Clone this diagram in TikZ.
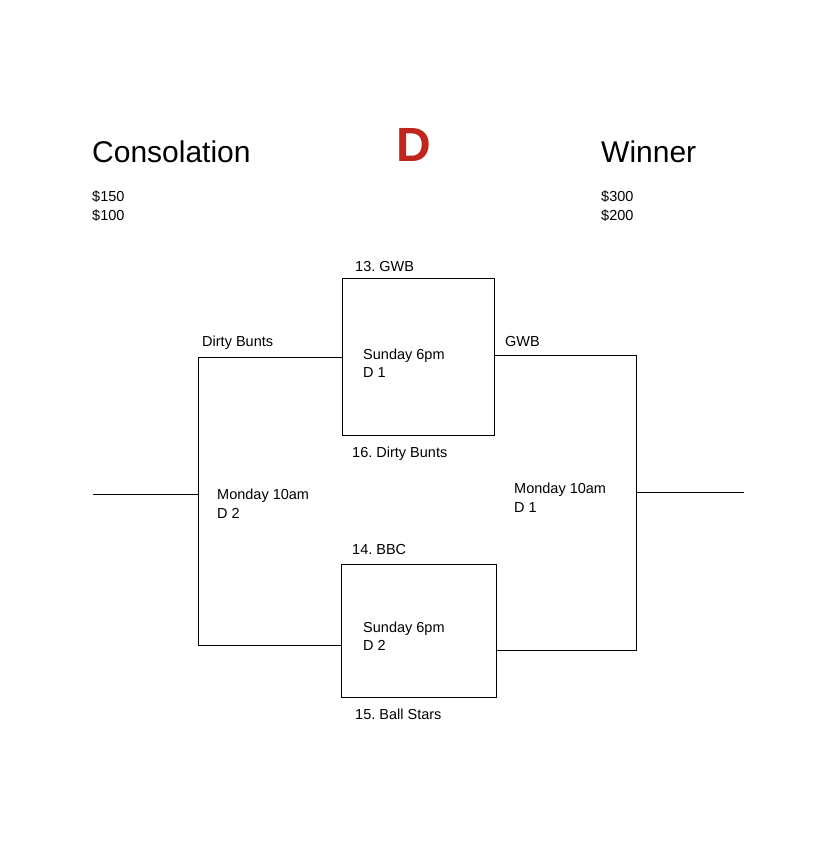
\documentclass[tikz,border=0pt]{standalone}
\usepackage{fontspec}
\setmainfont{Liberation Sans}
\frenchspacing
\definecolor{bracketred}{RGB}{192,38,30}
\tikzset{
  gamebox/.style={draw, line width=0.8pt, minimum width=152pt, minimum height=157pt, inner sep=0pt},
  lbl/.style={anchor=base west, inner sep=0pt, font=\fontsize{14.5}{17}\selectfont},
  title/.style={anchor=base west, inner sep=0pt, font=\fontsize{30}{36}\selectfont},
  wire/.style={line width=0.8pt}
}
\begin{document}
\begin{tikzpicture}[x=1pt,y=-1pt]
    \useasboundingbox (0,0) rectangle (836,861);
    % headings
    \node[title] (cons) at (92,163) {Consolation};
    \node[title] (win) at (601,163) {Winner};
    \node[anchor=base, inner sep=0pt, text=bracketred, font=\fontsize{48}{54}\selectfont\bfseries] (div) at (414,161) {D};
    \node[lbl] (consA) at (92,201) {\$150};
    \node[lbl] (consB) at (92,220) {\$100};
    \node[lbl] (winA) at (601,201) {\$300};
    \node[lbl] (winB) at (601,220) {\$200};
    %
    \node[gamebox] (g1) at (418,356.5) {};
    \node[gamebox, minimum width=155pt, minimum height=133pt] (g2) at (418.5,630.5) {};
    \node[lbl] (t13) at (355,271) {13. GWB};
    \node[lbl] (t16) at (352,457) {16. Dirty Bunts};
    \node[lbl] (g1a) at (363,359) {Sunday 6pm};
    \node[lbl] (g1b) at (363,377) {D 1};
    \node[lbl] (t14) at (352,554) {14. BBC};
    \node[lbl] (t15) at (355,719) {15. Ball Stars};
    \node[lbl] (g2a) at (363,632) {Sunday 6pm};
    \node[lbl] (g2b) at (363,650) {D 2};
    %
    \coordinate (consTop) at (198,357);
    \coordinate (consBot) at (198,645);
    \coordinate (consOut) at (93,494);
    \draw[wire] (g1.west |- consTop) -- (consTop) -- (consBot) -- (g2.west |- consBot);
    \draw[wire] (consOut) -- (consOut -| consTop);
    \node[lbl] (loser) at (202,346) {Dirty Bunts};
    \node[lbl] (m2a) at (217,499) {Monday 10am};
    \node[lbl] (m2b) at (217,518) {D 2};
    %
    \coordinate (winTop) at (636,355);
    \coordinate (winBot) at (636,650);
    \coordinate (winOut) at (744,492);
    \draw[wire] (g1.east |- winTop) -- (winTop) -- (winBot) -- (g2.east |- winBot);
    \draw[wire] (winTop |- winOut) -- (winOut);
    \node[lbl] (winner) at (505,346) {GWB};
    \node[lbl] (m1a) at (514,493) {Monday 10am};
    \node[lbl] (m1b) at (514,512) {D 1};
\end{tikzpicture}
\end{document}
